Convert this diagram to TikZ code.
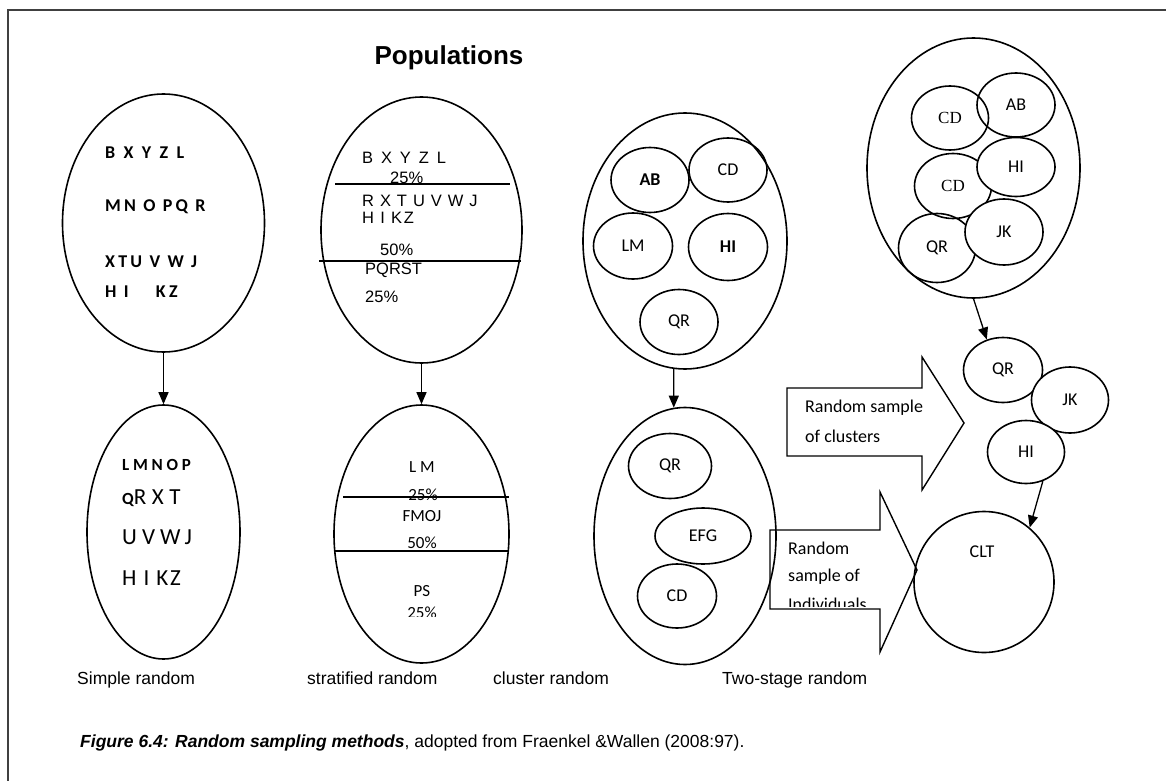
\documentclass[tikz,border=0pt]{standalone}
\usepackage{fontspec}
\setmainfont{Liberation Sans}
\newfontfamily\calibri{Carlito}
\newfontfamily\timesrm{Liberation Serif}
\usetikzlibrary{shapes.geometric,arrows.meta}

\begin{document}
\begin{tikzpicture}[x=1pt,y=-1pt,
  blob/.style 2 args={draw, ellipse, line width=1.6pt, inner sep=0pt, minimum width=#1, minimum height=#2},
  sub/.style 2 args={blob={#1}{#2}, font=\calibri\fontsize{18}{20}\selectfont},
  ltr/.style={anchor=west, inner sep=0pt},
  mid/.style={inner sep=0pt},
  lbl/.style={anchor=base west, inner sep=0pt, font=\fontsize{17.5}{20}\selectfont},
  link/.style={line width=1.3pt, -{Triangle[length=12pt,width=10pt]}},
  block/.style={draw, line width=1.4pt, line join=miter},
  cal/.style={font=\calibri\bfseries\addfontfeature{LetterSpace=#1}\fontsize{18}{20}\selectfont},
  calbig/.style={font=\calibri\addfontfeature{LetterSpace=#1}\fontsize{23}{25}\selectfont},
  ari/.style={font=\addfontfeature{LetterSpace=#1}\fontsize{16.5}{18}\selectfont},
  cals/.style={font=\calibri\fontsize{17}{19}\selectfont}
]
\useasboundingbox (0,0) rectangle (1166,781);
\draw[line width=1.2pt, black!75] (1166,10) -- (8,10) -- (8,781);

\node[inner sep=0pt, font=\bfseries\fontsize{26}{30}\selectfont] (title) at (449,58) {Populations};

% simple random
\node[blob={202}{258}] (simTop) at (163.5,223) {};
\node[ltr, cal=24] (st1) at (105,153) {B X Y Z L};
\node[ltr, cal=18] (st2) at (105,207) {MN O PQ R};
\node[ltr, cal=18] (st3) at (105,262) {XTU V W J};
\node[ltr, cal=18] (st4) at (105,292) {H I \hspace{20pt}KZ};
\node[blob={153}{254}] (simBot) at (163.5,532) {};
\node[ltr, font=\calibri\bfseries\addfontfeature{LetterSpace=22}\fontsize{17}{19}\selectfont] (sb1) at (122,465) {LMNOP};
\node[ltr] (sb2) at (122,498) {{\calibri\bfseries\fontsize{17}{19}\selectfont Q}{\calibri\addfontfeature{LetterSpace=24}\fontsize{23}{25}\selectfont RXT}};
\node[ltr, calbig=22] (sb3) at (122,537) {UVWJ};
\node[ltr, calbig=8] (sb4) at (122,578) {H I KZ};
\draw[link] (simTop.south) -- (simBot.north);
\node[lbl] (labSim) at (77,684) {Simple random};

% stratified random
\node[blob={201}{266}] (strTop) at (421.5,230) {};
\node[ltr, ari=20] (tt1) at (362,158) {B X Y Z L};
\node[ltr, ari=0] (tt2) at (390,178) {25\%};
\node[ltr, ari=36] (tt3) at (362,201) {RXTUVWJ};
\node[ltr, ari=10] (tt4) at (362,218) {H I KZ};
\node[ltr, ari=0] (tt5) at (380,250) {50\%};
\node[ltr, ari=0] (tt6) at (365,270) {PQRST};
\node[ltr, ari=0] (tt7) at (365,297) {25\%};
\draw[line width=1.4pt] (335,184) -- (510,184);
\draw[line width=1.4pt] (319,261) -- (521,261);
\node[blob={175}{258}] (strBot) at (421.5,534) {};
\node[mid, cals] (tb1) at (422,467) {L M};
\node[mid, cals] (tb2) at (423,495) {25\%};
\node[mid, cals] (tb3) at (422,516) {FMOJ};
\node[mid, cals] (tb4) at (422,543) {50\%};
\node[mid, cals] (tb5) at (422,591) {PS};
\begin{scope}
  \clip (380,600) rectangle (470,616);
  \node[mid, cals] (tb6) at (422,613) {25\%};
\end{scope}
\draw[line width=1.4pt] (343,497) -- (509,497);
\draw[line width=1.4pt] (335,551) -- (509,551);
\draw[link] (strTop.south) -- (strBot.north);
\node[lbl] (labStr) at (307,684) {stratified random};

% cluster random
\node[blob={204}{256}] (cluTop) at (685,241) {};
\node[sub={78}{65}, font=\calibri\bfseries\fontsize{18}{20}\selectfont] (cAB) at (650,180) {AB};
\node[sub={78}{64}] (cCD) at (728,170) {CD};
\node[sub={79}{66}] (cLM) at (633,246) {LM};
\node[sub={79}{67}, font=\calibri\bfseries\fontsize{18}{20}\selectfont] (cHI) at (728,247) {HI};
\node[sub={78}{65}] (cQR) at (679,322) {QR};
\node[blob={182}{257}] (cluBot) at (685,536) {};
\node[sub={83}{65}] (dQR) at (670,466) {QR};
\node[sub={96}{56}] (dEFG) at (703,536) {EFG};
\node[sub={79}{64}] (dCD) at (677,596) {CD};
\draw[link] (cluTop.265) -- (cluBot.95);
\node[lbl] (labClu) at (493,684) {cluster random};

% two-stage random
\node[blob={213}{260}] (twoTop) at (973.5,168) {};
\node[sub={77}{64}, font=\timesrm\fontsize{17}{19}\selectfont] (eCD) at (950,118) {CD};
\node[sub={78}{64}] (eAB) at (1016,105) {AB};
\node[sub={77}{65}, font=\timesrm\fontsize{17}{19}\selectfont] (eCDb) at (953,186) {CD};
\node[sub={78}{59}, fill=white] (eHI) at (1016,167) {HI};
\node[sub={77}{69}] (eQR) at (937,248) {QR};
\node[sub={78}{66}, fill=white] (eJK) at (1004,232) {JK};
\node[sub={79}{65}] (fQR) at (1003,370) {QR};
\node[sub={77}{66}, fill=white] (fJK) at (1070,400) {JK};
\node[sub={77}{63}, fill=white] (fHI) at (1026,452) {HI};
\node[blob={140}{141}] (clt) at (984,582) {};
\node[mid, font=\calibri\fontsize{18}{20}\selectfont] (cltTxt) at (982,552) {CLT};
\draw[link] (twoTop.south) -- (fQR.118);
\draw[link] (fHI.300) -- (clt.50);

\draw[block] (787,388) -- (922,388) -- (922,357) -- (964,423) -- (922,490) -- (922,456) -- (787,456) -- cycle;
\node[ltr, font=\calibri\fontsize{18}{20}\selectfont] (bk1) at (805,408) {Random sample};
\node[ltr, font=\calibri\fontsize{18}{20}\selectfont] (bk2) at (805,436) {of clusters};
\node[ltr, font=\calibri\fontsize{18}{20}\selectfont] (bk3) at (788,548) {Random};
\node[ltr, font=\calibri\fontsize{18}{20}\selectfont] (bk4) at (788,577) {sample of};
\begin{scope}
  \clip (770,590) rectangle (880,606);
  \node[ltr, font=\calibri\fontsize{18}{20}\selectfont] (bk5) at (788,604) {Individuals};
\end{scope}
\draw[block] (770,530) -- (880,530) -- (880,492) -- (917,570) -- (880,652) -- (880,609) -- (770,609) -- cycle;
\node[lbl] (labTwo) at (722,684) {Two-stage random};

\node[anchor=west, inner sep=0pt, font=\fontsize{17.5}{20}\selectfont] (caption) at (80,743)
  {\bfseries\itshape Figure 6.4: Random sampling methods\mdseries\upshape, adopted from Fraenkel \&Wallen (2008:97).};
\end{tikzpicture}
\end{document}
